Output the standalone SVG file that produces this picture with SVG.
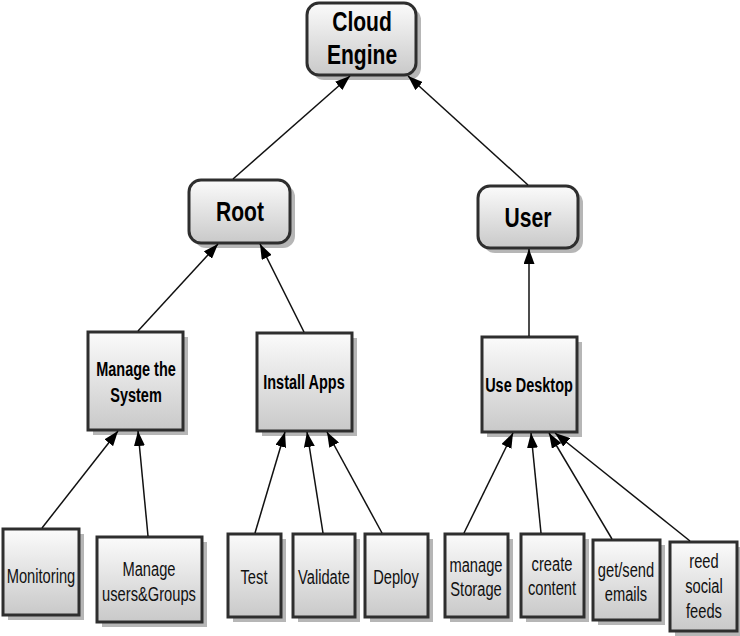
<svg xmlns="http://www.w3.org/2000/svg" width="740" height="636" viewBox="0 0 740 636">
<defs>
<linearGradient id="g" x1="0" y1="0" x2="0" y2="1">
<stop offset="0" stop-color="#fbfbfb"/>
<stop offset="1" stop-color="#c9c9c9"/>
</linearGradient>
<marker id="arr" viewBox="0 0 15 11" refX="15" refY="5.5" markerWidth="15" markerHeight="11" markerUnits="userSpaceOnUse" orient="auto">
<path d="M0,0 L15,5.5 L0,11 z" fill="#000"/>
</marker>
<style>
.box{fill:url(#g);stroke:#2e2e2e;stroke-width:3}
.sh{fill:#a9a9a9;opacity:0.85}
.t1{font-family:"Liberation Sans",Arial,sans-serif;font-weight:bold;font-size:27px;fill:#000;text-anchor:middle}
.t2{font-family:"Liberation Sans",Arial,sans-serif;font-weight:bold;font-size:21px;fill:#000;text-anchor:middle}
.t3{font-family:"Liberation Sans",Arial,sans-serif;font-size:21px;fill:#111;text-anchor:middle}
.c{stroke:#111;stroke-width:1.5;fill:none;marker-end:url(#arr)}
</style>
</defs>
<rect width="740" height="636" fill="#fff"/>
<g id="cloud">
<rect class="sh" x="312" y="8" width="109" height="72" rx="12"/>
<rect class="box" x="307" y="3" width="109" height="72" rx="12"/>
<text class="t1" transform="translate(362 31) scale(0.78 1)">Cloud</text>
<text class="t1" transform="translate(362 64) scale(0.78 1)">Engine</text>
</g>
<g id="root">
<rect class="sh" x="194" y="185" width="101" height="63" rx="12"/>
<rect class="box" x="189" y="180" width="101" height="63" rx="12"/>
<text class="t1" transform="translate(240 221) scale(0.78 1)">Root</text>
</g>
<g id="user">
<rect class="sh" x="483" y="191" width="100" height="62" rx="12"/>
<rect class="box" x="478" y="186" width="100" height="62" rx="12"/>
<text class="t1" transform="translate(528 227) scale(0.78 1)">User</text>
</g>
<g id="manage-system">
<rect class="sh" x="93" y="337" width="95" height="98"/>
<rect class="box" x="88" y="332" width="95" height="98"/>
<text class="t2" transform="translate(136 376) scale(0.69 1)">Manage the</text>
<text class="t2" transform="translate(136 402) scale(0.69 1)">System</text>
</g>
<g id="install-apps">
<rect class="sh" x="262" y="338" width="95" height="98"/>
<rect class="box" x="257" y="333" width="95" height="98"/>
<text class="t2" transform="translate(304 389) scale(0.69 1)">Install Apps</text>
</g>
<g id="use-desktop">
<rect class="sh" x="487" y="342" width="95" height="95"/>
<rect class="box" x="482" y="337" width="95" height="95"/>
<text class="t2" transform="translate(529 392) scale(0.69 1)">Use Desktop</text>
</g>
<g id="monitoring">
<rect class="sh" x="8" y="534" width="76" height="86"/>
<rect class="box" x="3" y="529" width="76" height="86"/>
<text class="t3" transform="translate(41 583) scale(0.7 1)">Monitoring</text>
</g>
<g id="manage-users">
<rect class="sh" x="102" y="542" width="105" height="85"/>
<rect class="box" x="97" y="537" width="105" height="85"/>
<text class="t3" transform="translate(149 576) scale(0.7 1)">Manage</text>
<text class="t3" transform="translate(149 601) scale(0.7 1)">users&amp;Groups</text>
</g>
<g id="test">
<rect class="sh" x="233" y="539" width="53" height="83"/>
<rect class="box" x="228" y="534" width="53" height="83"/>
<text class="t3" transform="translate(254 584) scale(0.7 1)">Test</text>
</g>
<g id="validate">
<rect class="sh" x="298" y="539" width="62" height="83"/>
<rect class="box" x="293" y="534" width="62" height="83"/>
<text class="t3" transform="translate(324 584) scale(0.7 1)">Validate</text>
</g>
<g id="deploy">
<rect class="sh" x="370" y="539" width="63" height="83"/>
<rect class="box" x="365" y="534" width="63" height="83"/>
<text class="t3" transform="translate(396 584) scale(0.7 1)">Deploy</text>
</g>
<g id="manage-storage">
<rect class="sh" x="450" y="539" width="63" height="83"/>
<rect class="box" x="445" y="534" width="63" height="83"/>
<text class="t3" transform="translate(476 572) scale(0.7 1)">manage</text>
<text class="t3" transform="translate(476 596) scale(0.7 1)">Storage</text>
</g>
<g id="create-content">
<rect class="sh" x="526" y="539" width="63" height="83"/>
<rect class="box" x="521" y="534" width="63" height="83"/>
<text class="t3" transform="translate(552 571) scale(0.7 1)">create</text>
<text class="t3" transform="translate(552 595) scale(0.7 1)">content</text>
</g>
<g id="send-emails">
<rect class="sh" x="598" y="545" width="67" height="80"/>
<rect class="box" x="593" y="540" width="67" height="80"/>
<text class="t3" transform="translate(626 577) scale(0.7 1)">get/send</text>
<text class="t3" transform="translate(626 601) scale(0.7 1)">emails</text>
</g>
<g id="social-feeds">
<rect class="sh" x="675" y="547" width="67" height="89"/>
<rect class="box" x="670" y="542" width="67" height="89"/>
<text class="t3" transform="translate(704 568) scale(0.7 1)">reed</text>
<text class="t3" transform="translate(704 593) scale(0.7 1)">social</text>
<text class="t3" transform="translate(704 618) scale(0.7 1)">feeds</text>
</g>
<g id="connectors">
<line class="c" x1="233" y1="179" x2="350" y2="76"/>
<line class="c" x1="528" y1="185" x2="408" y2="76"/>
<line class="c" x1="138" y1="331" x2="218" y2="244"/>
<line class="c" x1="304" y1="332" x2="260" y2="244"/>
<line class="c" x1="529" y1="336" x2="529" y2="249"/>
<line class="c" x1="42" y1="528" x2="118" y2="431"/>
<line class="c" x1="148" y1="536" x2="138" y2="431"/>
<line class="c" x1="255" y1="533" x2="285" y2="432"/>
<line class="c" x1="323" y1="533" x2="307" y2="432"/>
<line class="c" x1="382" y1="533" x2="327" y2="432"/>
<line class="c" x1="464" y1="533" x2="513" y2="433"/>
<line class="c" x1="541" y1="533" x2="531" y2="433"/>
<line class="c" x1="612" y1="539" x2="549" y2="433"/>
<line class="c" x1="690" y1="541" x2="555" y2="433"/>
</g>
</svg>
